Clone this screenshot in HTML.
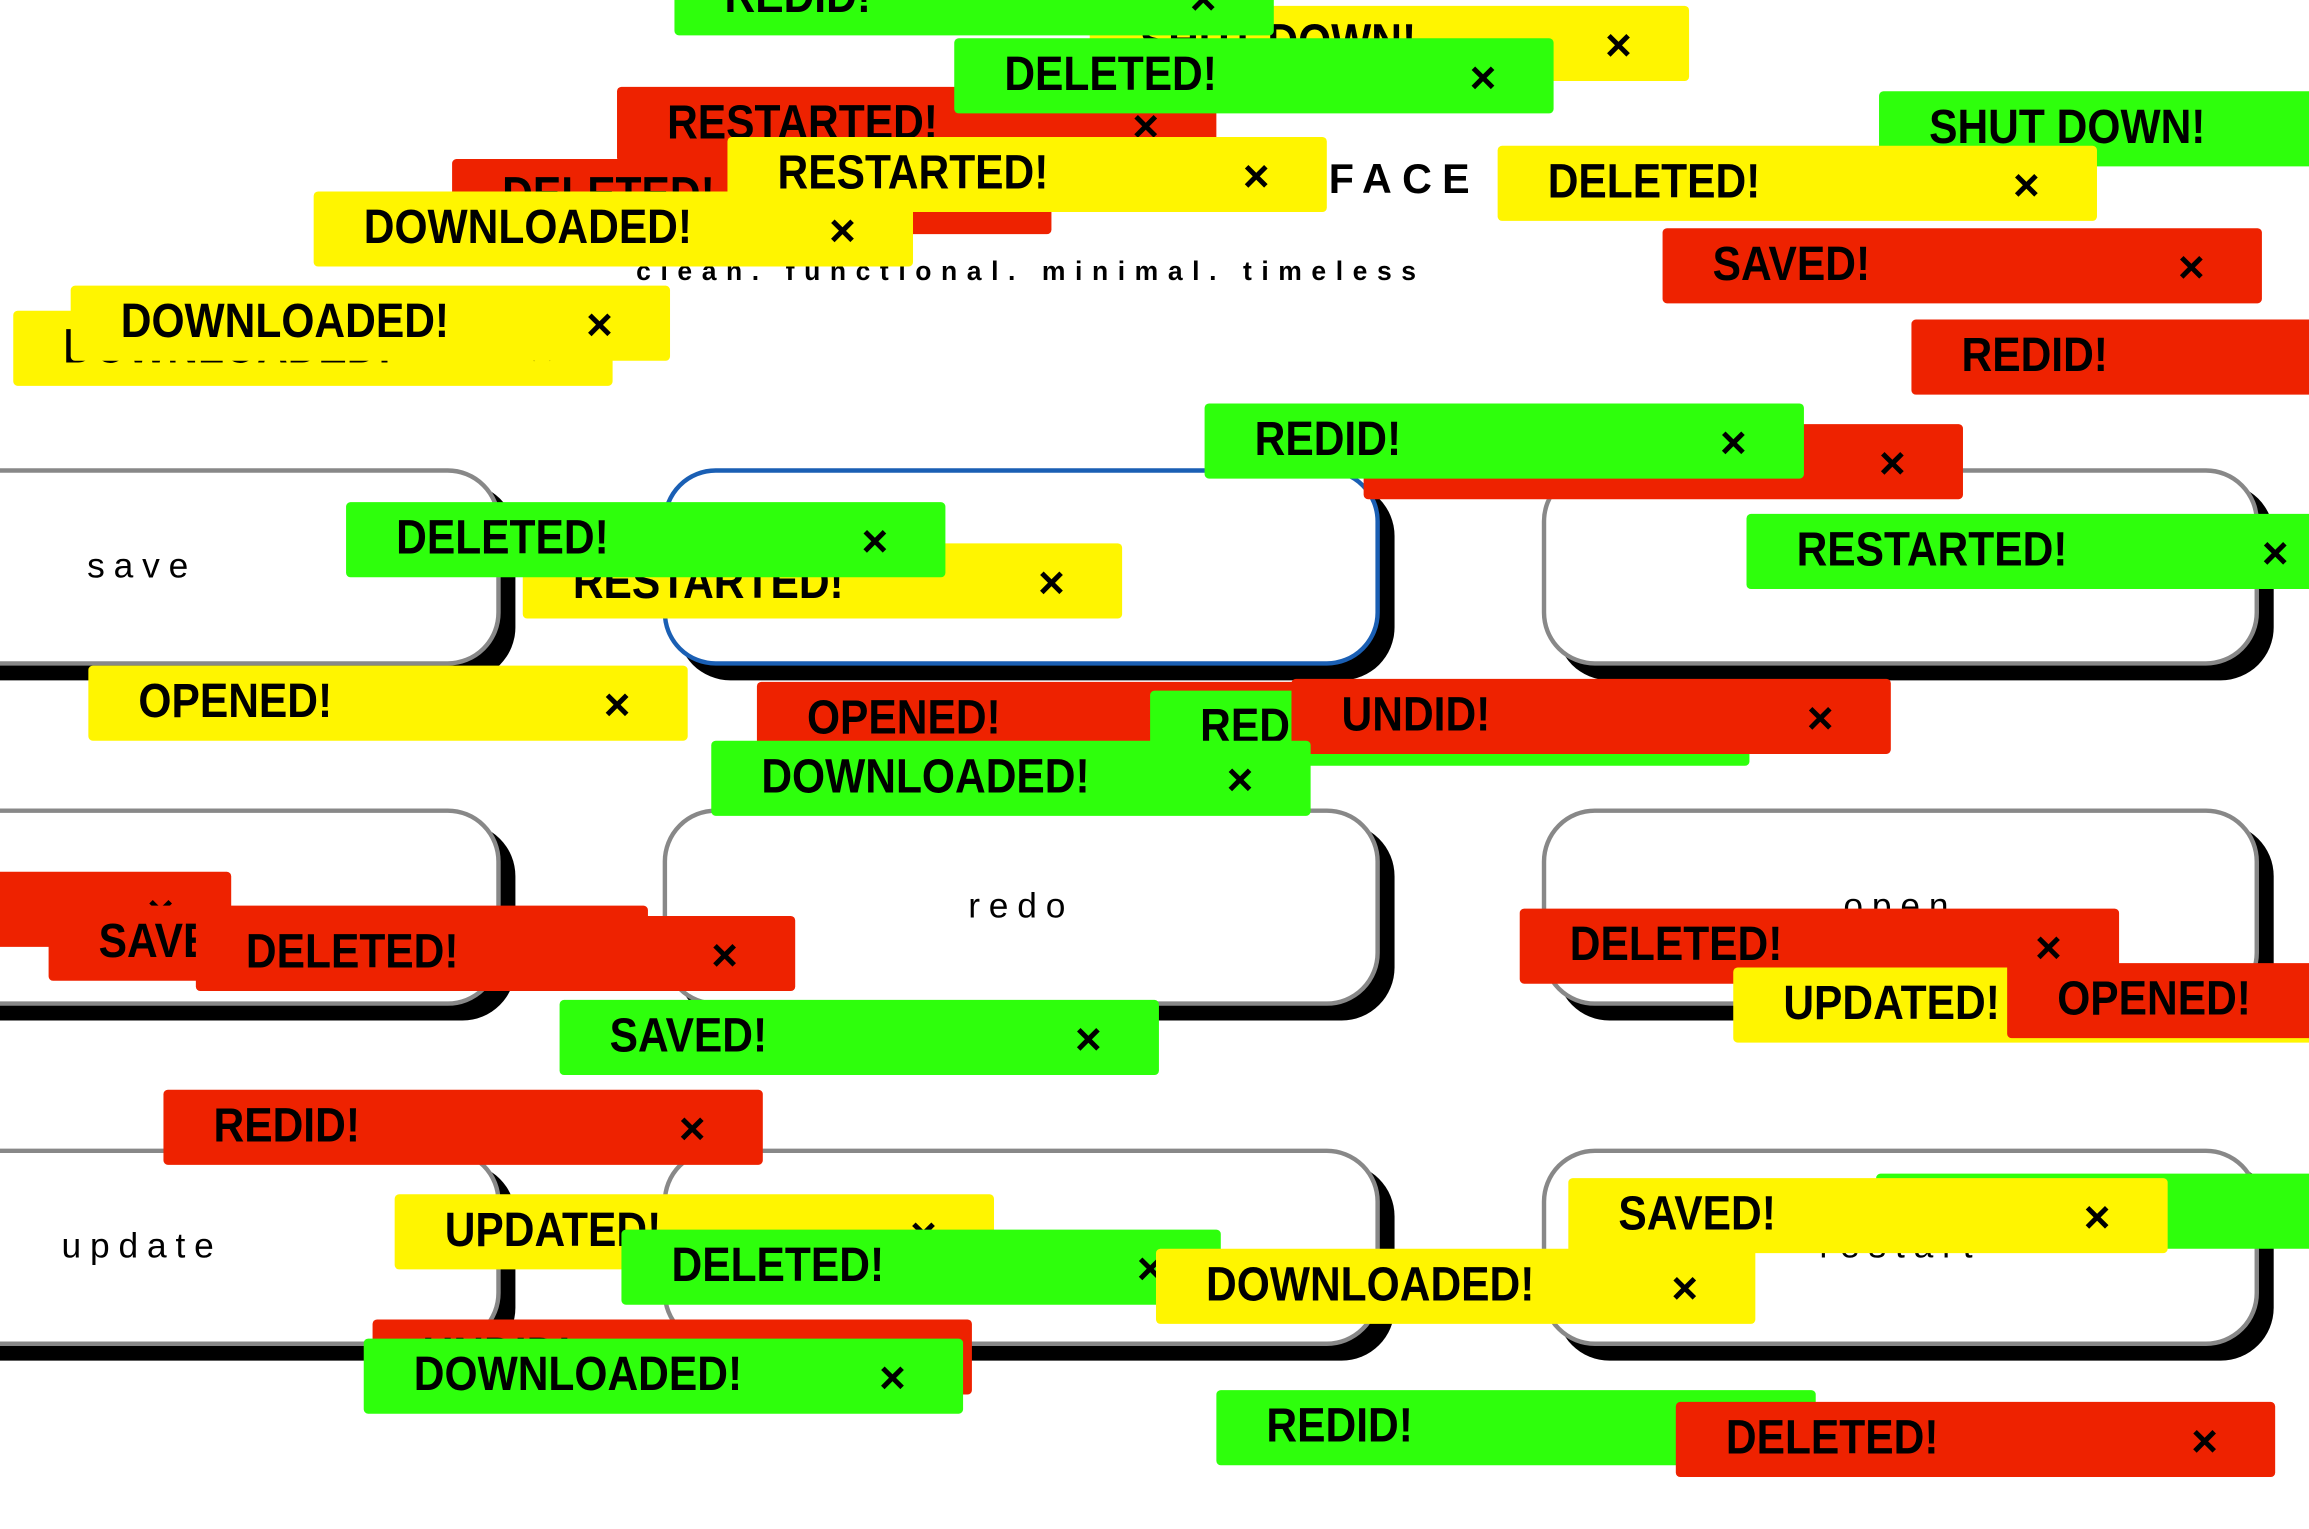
<!DOCTYPE html>
<html><head><meta charset="utf-8"><style>
html,body{margin:0;padding:0;background:#fff;overflow:hidden;width:2309px;height:1528px}
#w{position:absolute;left:0;top:0;width:1568px;height:1038px;transform:scale(1.4726);transform-origin:0 0;overflow:hidden}
.t{position:absolute;width:407px;height:51px;border-radius:3px;font-family:"Liberation Sans",sans-serif;font-weight:bold;font-size:33px;color:#000;overflow:hidden}
.t span{position:absolute;left:34px;top:5px;white-space:nowrap;transform:scaleX(0.875);transform-origin:0 0}
.t b{position:absolute;left:350px;top:9px;font-family:"Liberation Sans",sans-serif;font-size:31px;font-weight:bold}
.g{background:#2eff0c}.y{background:#fff500}.r{background:#ee2200}
.c{position:absolute;width:481px;height:128px;border:3px solid #888;border-radius:36px;background:#fff;box-shadow:10px 10px 0 #000;font-family:"Liberation Sans",sans-serif;font-size:24px;letter-spacing:6px;display:flex;align-items:center;justify-content:center}
.bl{border-color:#1a5fb4}
.tt{position:absolute;font-family:"Liberation Sans",sans-serif;font-weight:bold;white-space:nowrap}
</style></head><body><div id="w">
<div class="tt" style="right:563px;top:106px;font-size:28px;letter-spacing:7px">USER INTERFACE</div>
<div class="tt" style="left:432px;top:174px;font-size:18px;letter-spacing:6.5px">clean. functional. minimal. timeless</div>

<div class="c" style="left:-147px;top:318px">save</div>
<div class="c bl" style="left:450px;top:318px">copy</div>
<div class="c" style="left:1047px;top:318px">edit</div>
<div class="c" style="left:-147px;top:549px">save</div>
<div class="c" style="left:450px;top:549px">redo</div>
<div class="c" style="left:1047px;top:549px">open</div>
<div class="c" style="left:-147px;top:780px">update</div>
<div class="c" style="left:450px;top:780px">download</div>
<div class="c" style="left:1047px;top:780px">restart</div>

<div class="t y" style="left:740px;top:4px"><span>SHUT DOWN!</span><b>×</b></div>
<div class="t g" style="left:458px;top:-27px"><span>REDID!</span><b>×</b></div>
<div class="t r" style="left:419px;top:59px"><span>RESTARTED!</span><b>×</b></div>
<div class="t g" style="left:648px;top:26px"><span>DELETED!</span><b>×</b></div>
<div class="t r" style="left:307px;top:108px"><span>DELETED!</span><b>×</b></div>
<div class="t y" style="left:494px;top:93px"><span>RESTARTED!</span><b>×</b></div>
<div class="t y" style="left:213px;top:130px"><span>DOWNLOADED!</span><b>×</b></div>
<div class="t y" style="left:9px;top:211px"><span>DOWNLOADED!</span><b>×</b></div>
<div class="t y" style="left:48px;top:194px"><span>DOWNLOADED!</span><b>×</b></div>
<div class="t g" style="left:1276px;top:62px"><span>SHUT DOWN!</span><b>×</b></div>
<div class="t y" style="left:1017px;top:99px"><span>DELETED!</span><b>×</b></div>
<div class="t r" style="left:1129px;top:155px"><span>SAVED!</span><b>×</b></div>
<div class="t r" style="left:1298px;top:217px"><span>REDID!</span><b>×</b></div>
<div class="t r" style="left:926px;top:288px"><span>SAVED!</span><b>×</b></div>
<div class="t g" style="left:818px;top:274px"><span>REDID!</span><b>×</b></div>
<div class="t g" style="left:1186px;top:349px"><span>RESTARTED!</span><b>×</b></div>
<div class="t y" style="left:355px;top:369px"><span style="top:7px">RESTARTED!</span><b>×</b></div>
<div class="t g" style="left:235px;top:341px"><span>DELETED!</span><b>×</b></div>
<div class="t y" style="left:60px;top:452px"><span>OPENED!</span><b>×</b></div>
<div class="t r" style="left:514px;top:463px"><span>OPENED!</span><b>×</b></div>
<div class="t g" style="left:781px;top:469px"><span>REDID!</span><b>×</b></div>
<div class="t r" style="left:877px;top:461px"><span>UNDID!</span><b>×</b></div>
<div class="t g" style="left:483px;top:503px"><span>DOWNLOADED!</span><b>×</b></div>
<div class="t r" style="left:-250px;top:592px"><span>SAVED!</span><b>×</b></div>
<div class="t r" style="left:33px;top:615px"><span>SAVED!</span><b>×</b></div>
<div class="t r" style="left:133px;top:622px"><span>DELETED!</span><b>×</b></div>
<div class="t g" style="left:380px;top:679px"><span>SAVED!</span><b>×</b></div>
<div class="t r" style="left:1032px;top:617px"><span>DELETED!</span><b>×</b></div>
<div class="t y" style="left:1177px;top:657px"><span>UPDATED!</span><b>×</b></div>
<div class="t r" style="left:1363px;top:654px"><span>OPENED!</span><b>×</b></div>
<div class="t r" style="left:111px;top:740px"><span>REDID!</span><b>×</b></div>
<div class="t y" style="left:268px;top:811px"><span>UPDATED!</span><b>×</b></div>
<div class="t g" style="left:422px;top:835px"><span>DELETED!</span><b>×</b></div>
<div class="t r" style="left:253px;top:896px"><span>UNDID!</span><b>×</b></div>
<div class="t g" style="left:247px;top:909px"><span>DOWNLOADED!</span><b>×</b></div>
<div class="t g" style="left:1274px;top:797px"><span>OPENED!</span><b>×</b></div>
<div class="t y" style="left:1065px;top:800px"><span>SAVED!</span><b>×</b></div>
<div class="t y" style="left:785px;top:848px"><span>DOWNLOADED!</span><b>×</b></div>
<div class="t g" style="left:826px;top:944px"><span>REDID!</span><b>×</b></div>
<div class="t r" style="left:1138px;top:952px"><span>DELETED!</span><b>×</b></div>
</div></body></html>
